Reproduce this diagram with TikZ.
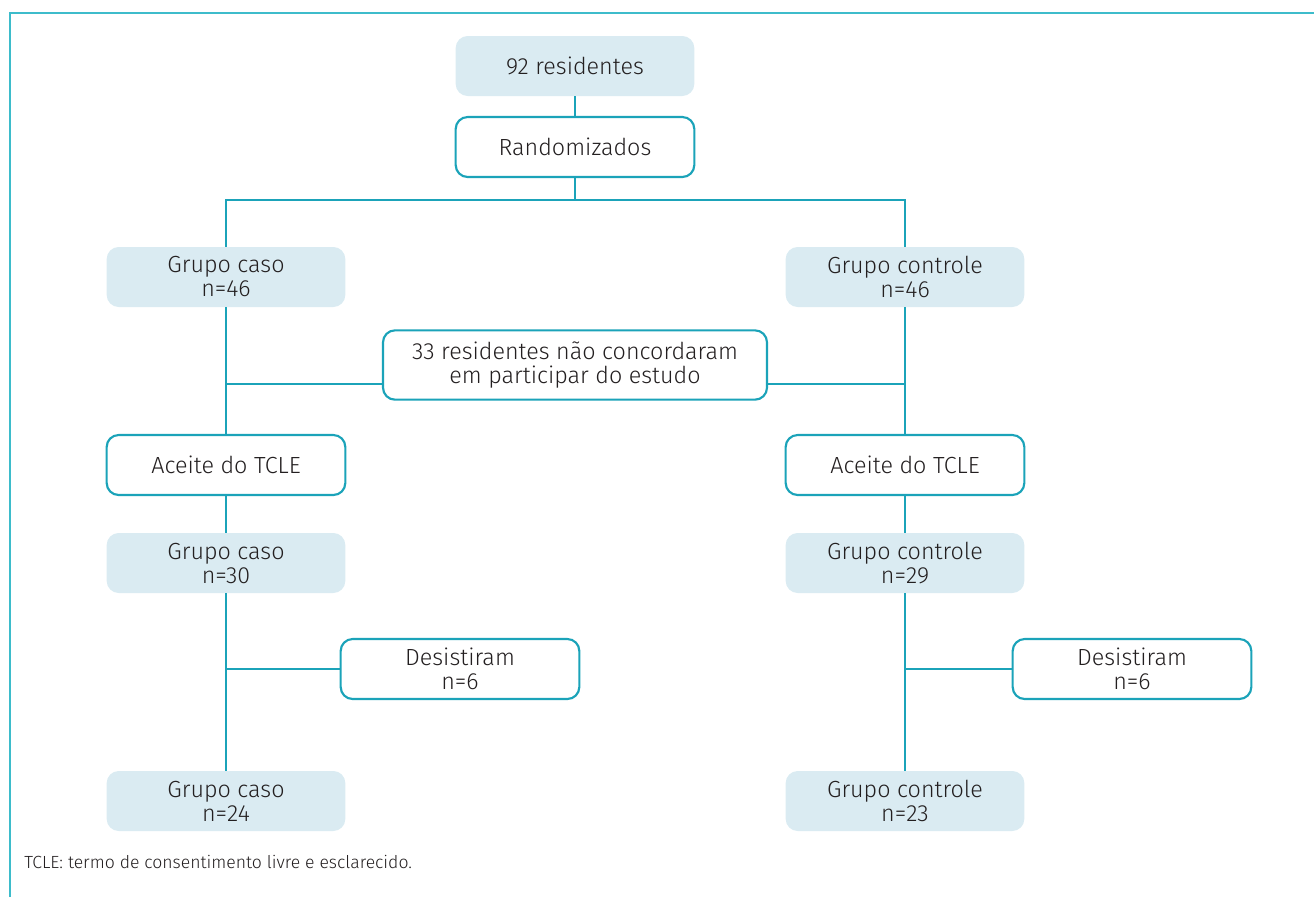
\documentclass[tikz,border=0pt]{standalone}
\usepackage{fontspec}
\setmainfont{Fira Sans Light}
\begin{document}
\definecolor{teal}{HTML}{1BA3B9}
\definecolor{frame}{HTML}{3DBCCB}
\definecolor{lblue}{HTML}{DAEBF2}
\definecolor{txt}{HTML}{231F20}
\begin{tikzpicture}[x=0.75pt,y=-0.75pt,
  filled/.style={fill=lblue,rounded corners=9pt,minimum width=179pt,minimum height=45pt,align=center,text=txt,font=\fontsize{17.5}{18}\selectfont,inner sep=0pt},
  outl/.style={draw=teal,line width=1.6pt,fill=white,rounded corners=9pt,minimum width=179pt,minimum height=45pt,align=center,text=txt,font=\fontsize{17.5}{18}\selectfont,inner sep=0pt},
  conn/.style={draw=teal,line width=1.1pt}]
\useasboundingbox (0,0) rectangle (1314,897);
\draw[frame,line width=1.6pt] (10,897) -- (10,13) -- (1314,13);
\coordinate (top) at (575,200);
\coordinate (lt) at (226,200);
\coordinate (rt) at (905,200);
\coordinate (lm) at (226,384);
\coordinate (rm) at (905,384);
\coordinate (ld) at (226,669);
\coordinate (rd) at (905,669);
\node[filled] (n92) at (575,66) {92 residentes};
\node[outl] (rand) at (575,147) {Randomizados};
\node[filled] (gc46) at (226,277) {Grupo caso\\n=46};
\node[filled] (gk46) at (905,277) {Grupo controle\\n=46};
\node[outl,minimum width=288pt,minimum height=52pt] (nao) at (575,365) {33 residentes não concordaram\\em participar do estudo};
\node[outl] (tl) at (226,465) {Aceite do TCLE};
\node[outl] (tr) at (905,465) {Aceite do TCLE};
\node[filled] (gc30) at (226,563) {Grupo caso\\n=30};
\node[filled] (gk29) at (905,563) {Grupo controle\\n=29};
\node[outl] (dl) at (460,669) {Desistiram\\n=6};
\node[outl] (dr) at (1132,669) {Desistiram\\n=6};
\node[filled] (gc24) at (226,801) {Grupo caso\\n=24};
\node[filled] (gk23) at (905,801) {Grupo controle\\n=23};
\draw[conn] (n92) -- (rand);
\draw[conn] (rand) -- (top);
\draw[conn] (gc46.north) -- (lt) -- (rt) -- (gk46.north);
\draw[conn] (gc46) -- (tl);
\draw[conn] (gk46) -- (tr);
\draw[conn] (lm) -- (lm -| nao.west);
\draw[conn] (rm -| nao.east) -- (rm);
\draw[conn] (tl) -- (gc30);
\draw[conn] (tr) -- (gk29);
\draw[conn] (gc30) -- (gc24);
\draw[conn] (gk29) -- (gk23);
\draw[conn] (ld) -- (dl.west);
\draw[conn] (rd) -- (dr.west);
\node[anchor=west,text=txt,font=\fontsize{13.2}{15}\selectfont,inner sep=0pt] (foot) at (24,862) {TCLE: termo de consentimento livre e esclarecido.};
\end{tikzpicture}
\end{document}
